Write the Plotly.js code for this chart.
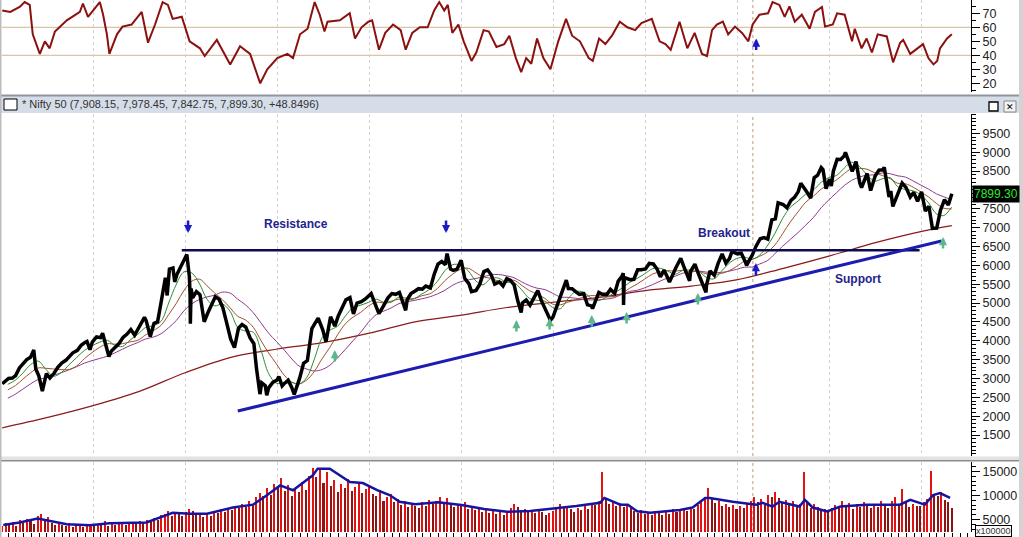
<!DOCTYPE html>
<html><head><meta charset="utf-8">
<script src="https://cdn.plot.ly/plotly-3.0.1.min.js"></script>
<style>html,body{margin:0;padding:0;background:#fff;}#chart{width:1023px;height:537px;}</style>
</head><body><div id="chart"></div>
<script>
// ---------- price (closes) ----------
const priceDates = [
'2006-01-06','2006-01-20','2006-01-31','2006-02-15','2006-02-28','2006-03-15','2006-03-31','2006-04-13','2006-04-28','2006-05-11','2006-05-19','2006-05-31','2006-06-14','2006-06-30','2006-07-14','2006-07-31','2006-08-15','2006-08-31','2006-09-15','2006-09-29','2006-10-13','2006-10-31','2006-11-15','2006-11-30','2006-12-08','2006-12-20','2006-12-29',
'2007-01-15','2007-01-31','2007-02-08','2007-02-28','2007-03-05','2007-03-15','2007-03-30','2007-04-13','2007-04-30','2007-05-15','2007-05-31','2007-06-15','2007-06-29','2007-07-13','2007-07-24','2007-07-31','2007-08-16','2007-08-31','2007-09-14','2007-09-28','2007-10-15','2007-10-22','2007-10-31','2007-11-14','2007-11-21','2007-11-30','2007-12-14','2007-12-31',
'2008-01-08','2008-01-18','2008-01-21','2008-01-22','2008-01-25','2008-01-31','2008-02-15','2008-02-29','2008-03-17','2008-03-31','2008-04-15','2008-04-30','2008-05-15','2008-05-30','2008-06-13','2008-06-30','2008-07-15','2008-07-31','2008-08-14','2008-08-29','2008-09-15','2008-09-30','2008-10-10','2008-10-24','2008-10-31','2008-11-14','2008-11-20','2008-11-28','2008-12-15','2008-12-31',
'2009-01-07','2009-01-20','2009-01-30','2009-02-13','2009-02-27','2009-03-09','2009-03-31','2009-04-15','2009-04-30','2009-05-18','2009-05-29','2009-06-12','2009-06-30','2009-07-13','2009-07-31','2009-08-17','2009-08-31','2009-09-15','2009-09-30','2009-10-16','2009-10-30','2009-11-13','2009-11-30','2009-12-15','2009-12-31',
'2010-01-08','2010-01-29','2010-02-08','2010-02-26','2010-03-15','2010-03-31','2010-04-15','2010-04-30','2010-05-25','2010-05-31','2010-06-15','2010-06-30','2010-07-15','2010-07-30','2010-08-13','2010-08-31','2010-09-15','2010-09-30','2010-10-15','2010-10-29','2010-11-05','2010-11-19','2010-11-30','2010-12-15','2010-12-31',
'2011-01-14','2011-01-31','2011-02-10','2011-02-28','2011-03-15','2011-03-31','2011-04-15','2011-04-29','2011-05-13','2011-05-31','2011-06-15','2011-06-30','2011-07-15','2011-07-29','2011-08-12','2011-08-26','2011-08-31','2011-09-15','2011-09-30','2011-10-14','2011-10-31','2011-11-15','2011-11-30','2011-12-20','2011-12-30',
'2012-01-13','2012-01-31','2012-02-21','2012-02-29','2012-03-15','2012-03-30','2012-04-13','2012-04-30','2012-05-15','2012-05-31','2012-06-04','2012-06-29','2012-07-13','2012-07-31','2012-08-14','2012-08-31','2012-09-14','2012-09-28','2012-10-04','2012-10-05','2012-10-08','2012-10-31','2012-11-15','2012-11-30','2012-12-14','2012-12-31',
'2013-01-15','2013-01-31','2013-02-15','2013-02-28','2013-03-15','2013-03-28','2013-04-05','2013-04-30','2013-05-20','2013-05-31','2013-06-24','2013-06-28','2013-07-15','2013-07-31','2013-08-28','2013-08-30','2013-09-13','2013-09-30','2013-10-15','2013-10-31','2013-11-15','2013-11-29','2013-12-09','2013-12-31',
'2014-01-15','2014-01-31','2014-02-05','2014-02-28','2014-03-14','2014-03-31','2014-04-15','2014-04-30','2014-05-16','2014-05-30','2014-06-10','2014-06-30','2014-07-15','2014-07-31','2014-08-14','2014-08-29','2014-09-08','2014-09-30','2014-10-17','2014-10-31','2014-11-14','2014-11-28','2014-12-05','2014-12-17','2014-12-31',
'2015-01-07','2015-01-15','2015-01-30','2015-02-13','2015-02-27','2015-03-04','2015-03-31','2015-04-15','2015-04-30','2015-05-07','2015-05-29','2015-06-12','2015-06-30','2015-07-15','2015-07-31','2015-08-05','2015-08-24','2015-08-31','2015-09-08','2015-09-30','2015-10-15','2015-10-30','2015-11-16','2015-11-30','2015-12-15','2015-12-31',
'2016-01-15','2016-01-29','2016-02-12','2016-02-29','2016-03-15','2016-03-31','2016-04-15','2016-04-29'];
const priceClose = [
2860,2930,3001,3010,3074,3280,3403,3500,3558,3754,3250,3071,2663,3128,3010,3143,3300,3414,3480,3588,3680,3744,3880,3955,3980,3760,3966,
4100,4082,4200,3745,3580,3730,3822,3917,4087,4170,4296,4150,4318,4500,4620,4529,4110,4464,4500,5021,5670,5200,5900,5930,5560,5762,5950,6139,
6287,5705,5208,4450,5383,5137,5300,5224,4503,4735,4950,5165,5100,4870,4500,4040,3816,4333,4430,4360,4072,3921,3280,2584,2885,2810,2553,2755,2900,2959,
3050,2800,2874,2950,2763,2573,3021,3400,3473,4324,4449,4600,4291,3974,4636,4388,4662,4900,5084,5142,4712,4998,5033,5100,5201,
5249,4882,4718,4922,5130,5249,5230,5278,4807,5087,5250,5313,5380,5368,5450,5402,5760,6030,6100,6018,6312,5900,5863,5900,6135,
5654,5506,5303,5333,5500,5834,5880,5750,5500,5560,5450,5647,5600,5482,5072,4747,5001,5080,4943,5130,5327,5050,4832,4544,4624,
4900,5199,5607,5385,5380,5296,5230,5248,4950,4924,4848,5279,5230,5229,5360,5259,5580,5703,5787,4950,5676,5620,5630,5880,5880,5905,
6050,6035,5900,5693,5870,5683,5553,5930,6187,5986,5590,5842,6030,5742,5285,5472,5850,5735,6050,6299,6060,6176,6364,6304,
6320,6090,6000,6277,6500,6704,6733,6696,7203,7230,7656,7611,7526,7721,7800,7954,8173,7965,7780,8322,8390,8588,8538,8030,8283,
8100,8495,8809,8805,8902,8996,8491,8750,8182,8060,8434,7982,8369,8524,8533,8600,7809,7971,7560,7949,8180,8066,7810,7935,7700,7946,
7438,7564,6981,6987,7460,7738,7600,7899];

// ---------- moving averages (monthly readings, Jan 2006 .. Apr 2016) ----------
const maShort = [
2843,2961,3139,3362,3461,3242,3059,3154,3363,3555,3743,3863,
3963,4009,3876,3848,4017,4172,4350,4400,4516,5000,5504,5826,
5793,5500,5100,4924,4974,4776,4354,4254,4224,3748,3122,2874,
2880,2891,2848,3028,3517,4083,4276,4385,4657,4876,4943,5015,
5102,5013,5020,5154,5128,5120,5239,5361,5576,5859,6017,6007,
5854,5580,5483,5654,5659,5546,5543,5348,5122,5072,5050,4883,
4848,5113,5298,5291,5139,5067,5150,5261,5389,5542,5652,5772,
5909,5919,5848,5763,5865,5874,5854,5685,5639,5841,6054,6180,
6215,6163,6265,6513,6841,7243,7535,7702,7889,7996,8202,8326,
8385,8583,8733,8626,8402,8233,8293,8324,8080,8011,7974,7867,
7654,7365,7320,7541];
const maMid = [
2698,2813,2976,3146,3276,3270,3250,3235,3237,3330,3524,3685,
3828,3921,3908,3922,3970,4013,4152,4267,4410,4693,4998,5337,
5580,5630,5457,5261,5089,4870,4648,4548,4354,4004,3670,3389,
3089,2902,2854,2961,3189,3528,3822,4159,4450,4624,4754,4920,
5020,5004,5048,5100,5074,5111,5193,5243,5385,5596,5767,5892,
5920,5800,5691,5657,5580,5567,5604,5470,5326,5239,5122,4974,
4952,5024,5076,5157,5196,5189,5165,5174,5252,5387,5504,5635,
5767,5830,5859,5843,5870,5828,5843,5776,5757,5783,5857,5972,
6109,6159,6237,6348,6537,6839,7146,7417,7676,7833,8020,8148,
8267,8435,8559,8572,8548,8452,8380,8298,8174,8161,8070,7946,
7811,7639,7513,7496];
const maLong = [
2476,2586,2713,2854,2971,3016,3082,3151,3229,3312,3406,3472,
3531,3592,3676,3776,3871,3952,4046,4096,4184,4346,4540,4796,
4979,5098,5161,5209,5289,5261,5100,4950,4739,4472,4194,3983,
3756,3514,3331,3248,3198,3237,3348,3548,3770,3998,4228,4483,
4689,4789,4867,4983,5033,5067,5111,5163,5241,5341,5474,5563,
5613,5652,5691,5747,5756,5722,5672,5561,5461,5394,5356,5261,
5161,5150,5128,5089,5081,5087,5103,5139,5228,5306,5339,5403,
5487,5583,5661,5711,5792,5820,5848,5820,5806,5811,5844,5894,
5950,5956,6033,6122,6306,6506,6683,6867,7067,7267,7528,7733,
7928,8117,8250,8339,8389,8400,8450,8428,8372,8339,8233,8128,
8017,7894,7817,7739];
const maVeryLongDates = ['2006-01-06','2006-07-01','2007-01-01','2007-07-01','2008-01-01','2008-07-01','2009-01-01','2009-07-01','2010-01-01','2010-07-01','2011-01-01','2011-07-01','2012-01-01','2012-07-01','2013-01-01','2013-07-01','2014-01-01','2014-07-01','2015-01-01','2015-07-01','2016-01-01','2016-04-29'];
const maVeryLong = [1690,1960,2280,2650,3150,3560,3780,3950,4200,4500,4680,4880,5020,5150,5330,5450,5620,5920,6250,6600,6900,7050];

// ---------- trend lines ----------
const resistanceDates = ['2007-12-19','2015-12-23'];
const resistanceVals = [6400,6400];
const supportDates = ['2008-07-28','2016-03-19'];
const supportVals = [2136,6644];

// ---------- RSI ----------
const rsiDates = [
'2006-01-06','2006-02-07','2006-03-16','2006-04-05','2006-04-25','2006-05-07','2006-06-04','2006-06-24','2006-07-13','2006-08-03','2006-09-19','2006-11-10','2006-11-22','2006-12-12',
'2007-01-28','2007-02-10','2007-02-25','2007-03-07','2007-04-06','2007-04-28','2007-06-03','2007-07-13','2007-08-07','2007-09-04','2007-10-04','2007-10-25','2007-11-13','2007-12-19',
'2008-01-19','2008-02-29','2008-03-19','2008-05-06','2008-06-28','2008-08-06','2008-09-15','2008-10-25','2008-11-22',
'2009-01-01','2009-02-10','2009-03-04','2009-04-01','2009-05-01','2009-05-29','2009-06-18','2009-07-07','2009-07-19','2009-09-06','2009-10-15','2009-11-05','2009-12-01','2009-12-28',
'2010-01-12','2010-02-08','2010-03-05','2010-04-05','2010-05-05','2010-05-25','2010-06-20','2010-07-20','2010-08-20','2010-09-15','2010-10-05','2010-10-25','2010-11-08','2010-11-26','2010-12-20',
'2011-01-10','2011-02-10','2011-03-01','2011-03-30','2011-04-20','2011-05-20','2011-06-20','2011-07-10','2011-08-05','2011-08-26','2011-09-15','2011-10-05','2011-10-28','2011-11-22','2011-12-20',
'2012-01-20','2012-02-20','2012-03-15','2012-04-15','2012-05-20','2012-06-05','2012-06-30','2012-07-25','2012-08-20','2012-09-20','2012-10-20','2012-11-20','2012-12-15',
'2013-01-25','2013-02-25','2013-03-20','2013-04-10','2013-05-15','2013-06-15','2013-07-14','2013-08-12','2013-09-01','2013-09-21','2013-10-10','2013-11-03','2013-11-24','2013-12-21',
'2014-01-18','2014-02-12','2014-03-01','2014-03-28','2014-05-01','2014-05-19','2014-06-15','2014-07-06','2014-07-25','2014-08-15','2014-09-12','2014-10-13','2014-11-03','2014-12-01','2014-12-13',
'2015-01-13','2015-01-30','2015-03-01','2015-03-30','2015-04-10','2015-05-07','2015-05-27','2015-06-17','2015-07-10','2015-08-15','2015-09-09','2015-10-07','2015-10-19','2015-11-16','2015-12-13',
'2016-01-06','2016-01-27','2016-02-16','2016-03-02','2016-03-13','2016-04-10','2016-04-29'];
const rsiVals = [
72,71,74.5,78,76,55,41,50,45,57,65,71,77,67.5,
78,69,55,41,55,60.5,62,71,49,62,78,76,66,67.5,
50,45,39.5,51,33.5,46.5,41,20,30,
38,41,38,55,59,78,69,57,64,65,70,52,60,64,
65,44,56,62,58,44,56,60,60,72,78,72,76,56,62,
50,36,42,58,57,46,48,54,38,28,38,34,52,38,30,
50,66,54,50,38,36,52,48,54,64,60,58,63,
66,50,48,44,64,45,56,41,39.5,58,62,64,55,60.5,
56,50,62,69,70,78,76,67.5,75,64,69,59,71,74.5,60.5,
62,70,69,50,59,45,52,42,55,53.5,35,49,51,41,45,
48,38,33.5,36,45,52,55];

// ---------- volume (x100000), fortnightly from 2006-01-06 ----------
const volume = [
3600,4200,3900,4500,3700,4800,4300,5200,4600,4100,5800,6100,4900,5500,4300,3900,4400,3800,3600,4200,3500,3900,4100,3400,3800,4000,
3700,4100,3900,4600,3600,4300,3800,4000,4400,3900,4200,4500,4100,4700,4300,4900,4400,5300,4800,5900,6200,6800,5700,6600,6100,5800,
6500,7200,6800,5900,6400,5600,6100,5800,6700,6300,7100,6600,7400,6900,7800,7300,8200,7600,8800,8100,9600,10500,9800,11500,10200,12400,
11800,13600,10900,12200,9800,11500,10700,12800,11200,14100,15800,13900,15300,12600,14800,11900,13200,10800,12400,11600,13500,10900,11800,12700,10600,11300,
12100,10400,9800,11200,8900,9600,10300,8700,9200,8100,8800,7600,8400,7900,7300,8600,7800,9100,8300,8900,9700,8600,9400,8200,7600,8300,
7900,8600,7200,7800,6900,7500,6600,7100,6300,6800,6100,6700,5900,6400,7300,8200,7600,6800,7200,6500,6900,6300,7100,6600,6000,6400,
6800,7600,8200,7400,7900,7100,6600,7300,6900,7800,7200,8400,8100,8900,14900,9300,8300,8800,7900,8500,7700,8100,7400,6800,6300,6900,
6200,6600,5900,6800,6300,6000,6700,6200,7100,6500,6900,7400,6800,7600,7200,8100,8900,9600,11500,9200,8400,8800,7900,8300,7600,8100,
7200,7800,7500,8300,8900,9600,8700,9300,8100,10200,9700,10800,9400,8600,9100,8200,8800,7900,8300,15000,8900,7400,8200,7600,6900,7200,
6500,7300,8100,7600,8800,7900,8400,7200,8300,7700,8600,7900,7400,8100,7600,8900,8200,7500,8800,9600,8300,11400,8700,7600,8200,7900,
7800,8600,9200,15200,10400,9800,10800,9100,8700,7400];
const volAvgDates = ['2006-01-10','2006-03-16','2006-05-26','2006-07-25','2006-09-19','2006-12-19','2007-03-07','2007-08-01','2007-09-22','2007-11-13','2008-01-20','2008-03-28','2008-07-09','2008-09-27','2008-11-22','2009-01-12','2009-03-04','2009-05-22','2009-06-10','2009-07-28','2009-10-16','2009-12-06','2010-02-01','2010-03-22','2010-05-01','2010-07-01','2010-10-01','2011-01-01','2011-04-01','2011-07-01','2011-10-01','2012-01-01','2012-04-01','2012-07-04','2012-07-21','2012-09-22','2012-10-22','2012-11-28','2013-01-19','2013-05-16','2013-07-06','2013-08-25','2013-09-12','2013-12-12','2014-03-16','2014-04-09','2014-05-19','2014-06-15','2014-09-03','2014-09-24','2014-10-25','2014-12-21','2015-02-12','2015-05-27','2015-10-06','2015-11-16','2016-01-13','2016-02-15','2016-03-13','2016-04-22'];
const volAvg = [3840,4400,5200,4600,4000,3800,4200,4400,5400,6400,6200,6200,7500,8100,10100,12100,11100,14200,15600,15600,12800,12600,11100,10100,8700,8200,8600,8000,7200,6600,6800,7300,7800,8500,9500,8100,8100,6700,6400,7000,7500,9500,9500,8700,8100,8500,7700,8700,7700,9100,7500,6700,7700,8100,8100,9100,8100,10100,10500,9500];

// ---------- tick labels & texts ----------
const rsiTicks = [20, 30, 40, 50, 60, 70];
const priceTicks = [1500, 2000, 2500, 3000, 3500, 4000, 4500, 5000, 5500, 6000, 6500, 7000, 7500, 8500, 9000, 9500];
const volTicks = [5000, 10000, 15000];
const headerText = '* Nifty 50 (7,908.15, 7,978.45, 7,842.75, 7,899.30, +48.8496)';
const lastCloseLabel = '7899.30';
const lastClose = 7899.30;

// ---------- derived x sequences ----------
const maDates = [];
for (let y = 2006; y <= 2016; y++) for (let m = 1; m <= 12; m++) {
  if (maDates.length >= maShort.length) break;
  maDates.push(y + '-' + String(m).padStart(2, '0') + '-28');
}
const t0 = Date.UTC(2006, 0, 6);
const volDates = volume.map((v, i) => new Date(t0 + i * 14 * 86400000).toISOString().slice(0, 10));
const volColors = volume.map((v, i) => (i === 0 || v >= volume[i - 1]) ? '#e31212' : '#8e1414');

const traces = [
  {x: rsiDates, y: rsiVals, xaxis: 'x', yaxis: 'y', type: 'scatter', mode: 'lines', line: {color: '#8b1010', width: 2}},
  {x: maVeryLongDates, y: maVeryLong, xaxis: 'x', yaxis: 'y2', type: 'scatter', mode: 'lines', line: {color: '#8b1a1a', width: 1.2, shape: 'spline'}},
  {x: maDates, y: maLong, xaxis: 'x', yaxis: 'y2', type: 'scatter', mode: 'lines', line: {color: '#8e3b8e', width: 1, shape: 'spline'}},
  {x: maDates, y: maMid, xaxis: 'x', yaxis: 'y2', type: 'scatter', mode: 'lines', line: {color: '#a0522d', width: 1, shape: 'spline'}},
  {x: maDates, y: maShort, xaxis: 'x', yaxis: 'y2', type: 'scatter', mode: 'lines', line: {color: '#2e8b2e', width: 1, shape: 'spline'}},
  {x: priceDates, y: priceClose, xaxis: 'x', yaxis: 'y2', type: 'scatter', mode: 'lines', line: {color: '#000', width: 3.5}},
  {x: resistanceDates, y: resistanceVals, xaxis: 'x', yaxis: 'y2', type: 'scatter', mode: 'lines', line: {color: '#0b0b4d', width: 2.5}},
  {x: supportDates, y: supportVals, xaxis: 'x', yaxis: 'y2', type: 'scatter', mode: 'lines', line: {color: '#1c1cb0', width: 3}},
  {x: volDates, y: volume, xaxis: 'x', yaxis: 'y3', type: 'bar', marker: {color: volColors, line: {width: 0}}, width: 8 * 86400000},
  {x: volAvgDates, y: volAvg, xaxis: 'x', yaxis: 'y3', type: 'scatter', mode: 'lines', line: {color: '#1515a0', width: 2.5}}
];

// pixel helpers for paper-positioned decorations (plot area: x 2..971, y 0..532)
const px = p => (p - 2) / 969;
const py = p => (532 - p) / 532;

const tf = {family: 'Arial, Liberation Sans, sans-serif', size: 12.5, color: '#222'};
const yCommon = {side: 'right', anchor: 'x', ticks: 'outside', ticklen: 8, tickcolor: '#000', showline: true, linecolor: '#000', linewidth: 1,
  showgrid: false, zeroline: false, tickformat: 'd', tickfont: tf, fixedrange: true, tickmode: 'array'};

const blue = '#1a1ac8', green = '#5cb88a';
const arrows = [
  {x: '2008-01-13', y: 6856, yref: 'y2', ay: -14, c: blue},
  {x: '2010-11-01', y: 6856, yref: 'y2', ay: -14, c: blue},
  {x: '2014-03-14', y: 6060, yref: 'y2', ay: 14, c: blue},
  {x: '2014-03-15', y: 52, yref: 'y', ay: 13, c: blue},
  {x: '2009-08-17', y: 3753, yref: 'y2', ay: 13, c: green},
  {x: '2011-08-07', y: 4549, yref: 'y2', ay: 13, c: green},
  {x: '2011-12-17', y: 4602, yref: 'y2', ay: 13, c: green},
  {x: '2012-06-01', y: 4682, yref: 'y2', ay: 13, c: green},
  {x: '2012-10-17', y: 4761, yref: 'y2', ay: 13, c: green},
  {x: '2013-07-27', y: 5265, yref: 'y2', ay: 13, c: green},
  {x: '2016-03-25', y: 6750, yref: 'y2', ay: 13, c: green}
];
const annotations = arrows.map(a => ({x: a.x, y: a.y, xref: 'x', yref: a.yref, text: '', showarrow: true, arrowhead: 2, arrowsize: 0.65, arrowwidth: 2.5, arrowcolor: a.c, ax: 0, ay: a.ay, standoff: 0}));
const lblFont = {family: 'Arial, Liberation Sans, sans-serif', size: 12, color: '#23238e'};
annotations.push(
  {x: '2009-03-17', y: 7095, xref: 'x', yref: 'y2', text: '<b>Resistance</b>', showarrow: false, font: lblFont},
  {x: '2013-11-08', y: 6856, xref: 'x', yref: 'y2', text: '<b>Breakout</b>', showarrow: false, font: lblFont},
  {x: '2015-04-22', y: 5637, xref: 'x', yref: 'y2', text: '<b>Support</b>', showarrow: false, font: lblFont},
  {x: px(20), y: py(104), xref: 'paper', yref: 'paper', xanchor: 'left', yanchor: 'middle', text: headerText, showarrow: false, font: {family: 'Arial, Liberation Sans, sans-serif', size: 11, color: '#333'}},
  {x: px(996), y: lastClose, xref: 'paper', yref: 'y2', xanchor: 'center', yanchor: 'middle', text: lastCloseLabel, showarrow: false, bgcolor: '#000', borderpad: 1, font: {family: 'Arial, Liberation Sans, sans-serif', size: 12, color: '#2ee82e'}},
  {x: px(994), y: py(531), xref: 'paper', yref: 'paper', xanchor: 'center', yanchor: 'middle', text: 'x100000', showarrow: false, bgcolor: '#fff', bordercolor: '#000', borderwidth: 1, borderpad: 0, font: {family: 'Arial, Liberation Sans, sans-serif', size: 9, color: '#333'}},
  {x: px(1010), y: py(106.5), xref: 'paper', yref: 'paper', xanchor: 'center', yanchor: 'middle', text: '<b>✕</b>', showarrow: false, font: {family: 'DejaVu Sans, sans-serif', size: 9, color: '#000'}}
);

const shapes = [
  // RSI reference lines
  {type: 'line', xref: 'x domain', yref: 'y', x0: 0, x1: 1, y0: 60, y1: 60, line: {color: '#cdb891', width: 1}, layer: 'below'},
  {type: 'line', xref: 'x domain', yref: 'y', x0: 0, x1: 1, y0: 40, y1: 40, line: {color: '#cdb891', width: 1}, layer: 'below'},
  // breakout marker
  {type: 'line', xref: 'x', yref: 'y domain', x0: '2014-03-02', x1: '2014-03-02', y0: 0, y1: 1, line: {color: '#b89a78', width: 1, dash: 'dot'}, layer: 'below'},
  {type: 'line', xref: 'x', yref: 'y2 domain', x0: '2014-03-02', x1: '2014-03-02', y0: 0, y1: 1, line: {color: '#b89a78', width: 1, dash: 'dot'}, layer: 'below'},
  {type: 'line', xref: 'x', yref: 'y3 domain', x0: '2014-03-02', x1: '2014-03-02', y0: 0, y1: 1, line: {color: '#b89a78', width: 1, dash: 'dot'}, layer: 'below'},
  // header bar
  {type: 'rect', xref: 'paper', yref: 'paper', x0: px(0), x1: px(1023), y0: py(113), y1: py(95), fillcolor: '#d5dde8', line: {width: 0}},
  {type: 'line', xref: 'paper', yref: 'paper', x0: px(0), x1: px(1023), y0: py(95.5), y1: py(95.5), line: {color: '#8f969e', width: 2}},
  {type: 'rect', xref: 'paper', yref: 'paper', x0: px(4), x1: px(17), y0: py(110), y1: py(99), fillcolor: '#fff', line: {color: '#000', width: 1}},
  {type: 'rect', xref: 'paper', yref: 'paper', x0: px(989), x1: px(998), y0: py(111), y1: py(102), fillcolor: '#fff', line: {color: '#000', width: 1.3}},
  {type: 'rect', xref: 'paper', yref: 'paper', x0: px(1004), x1: px(1016), y0: py(112), y1: py(101), fillcolor: '#f2f2f2', line: {color: '#888', width: 1}},
  // main / volume separator
  {type: 'rect', xref: 'paper', yref: 'paper', x0: px(0), x1: px(1023), y0: py(460), y1: py(456.5), fillcolor: '#e2e2e2', line: {width: 0}},
  {type: 'line', xref: 'paper', yref: 'paper', x0: px(0), x1: px(1023), y0: py(460.8), y1: py(460.8), line: {color: '#8c8c8c', width: 1.5}},
  // window frame edges
  {type: 'rect', xref: 'paper', yref: 'paper', x0: px(0), x1: px(1.5), y0: py(537), y1: py(0), fillcolor: '#bdbdbd', line: {width: 0}},
  {type: 'rect', xref: 'paper', yref: 'paper', x0: px(1019), x1: px(1023), y0: py(537), y1: py(0), fillcolor: '#d3d3d3', line: {width: 0}}
];

const layout = {
  width: 1023, height: 537,
  margin: {l: 2, r: 52, t: 0, b: 5, pad: 0},
  paper_bgcolor: '#fff', plot_bgcolor: '#fff',
  showlegend: false, bargap: 0,
  font: {family: 'Arial, Liberation Sans, sans-serif', size: 12, color: '#222'},
  xaxis: {type: 'date', range: ['2006-01-05', '2016-07-14'], anchor: 'y3', domain: [0, 1],
    showgrid: true, gridcolor: '#d2d2d2', griddash: '3px,3px', gridwidth: 1, dtick: 'M12', tick0: '2006-01-01',
    ticks: 'outside', ticklen: 4, tickcolor: '#000', showticklabels: false, zeroline: false, showline: false, fixedrange: true,
    minor: {dtick: 'M1', ticks: 'outside', ticklen: 4, tickcolor: '#000', showgrid: false}},
  yaxis: Object.assign({}, yCommon, {domain: [py(92), 1], range: [13.8, 79.5], tickvals: rsiTicks,
    minor: {dtick: 5, ticks: 'outside', ticklen: 4, tickcolor: '#000', showgrid: false}}),
  yaxis2: Object.assign({}, yCommon, {domain: [py(456), py(114)], range: [943, 10012], tickvals: priceTicks,
    minor: {dtick: 100, ticks: 'outside', ticklen: 4, tickcolor: '#000', showgrid: false}}),
  yaxis3: Object.assign({}, yCommon, {domain: [0, py(462)], range: [2400, 16980], tickvals: volTicks,
    minor: {dtick: 1000, ticks: 'outside', ticklen: 4, tickcolor: '#000', showgrid: false}}),
  shapes: shapes,
  annotations: annotations
};

Plotly.newPlot('chart', traces, layout, {staticPlot: true, displayModeBar: false});
</script>
</body></html>
